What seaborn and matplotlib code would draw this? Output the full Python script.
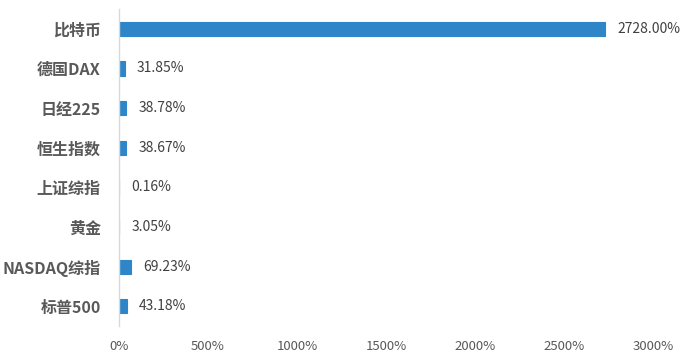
import numpy as np
import pandas as pd
import seaborn as sns
import matplotlib.pyplot as plt

# Data (top to bottom)
categories = ['比特币', '德国DAX', '日经225', '恒生指数', '上证综指', '黄金', 'NASDAQ综指', '标普500']
returns = [2728.00, 31.85, 38.78, 38.67, 0.16, 3.05, 69.23, 43.18]
xticks = [0, 500, 1000, 1500, 2000, 2500, 3000]

df = pd.DataFrame({'category': categories, 'return': returns})

sns.set_theme(style='white')
plt.rcParams['font.family'] = ['Noto Sans CJK SC', 'DejaVu Sans']

fig = plt.figure(figsize=(6.91, 3.6), dpi=100)
ax = fig.add_axes([0.172, 0.094, 0.774, 0.881])

sns.barplot(data=df, x='return', y='category', orient='h', color='#2E86C8',
            width=0.36, saturation=1, edgecolor='#2E86C8', linewidth=0.8, ax=ax)

# value labels to the right of each bar
for i, v in enumerate(returns):
    ax.annotate(f'{v:.2f}%', xy=(v, i), xytext=(9, 0), textcoords='offset points',
                va='center', ha='left', fontsize=10, color='#404040')

ax.set_xlim(0, 3000)
ax.set_xticks(xticks)
ax.set_xticklabels([f'{t}%' for t in xticks], fontsize=9.5, color='#595959')
ax.set_xlabel('')
ax.set_ylabel('')
for lbl in ax.get_yticklabels():
    lbl.set_fontsize(11.5)
    lbl.set_fontweight('bold')
    lbl.set_color('#595959')
ax.tick_params(axis='y', length=0, pad=13)
ax.tick_params(axis='x', length=0, pad=10)

for s in ['top', 'right', 'bottom']:
    ax.spines[s].set_visible(False)
ax.spines['left'].set_color('#D9D9D9')
ax.spines['left'].set_linewidth(1)
ax.grid(False)

fig.savefig('out.png', dpi=100)
